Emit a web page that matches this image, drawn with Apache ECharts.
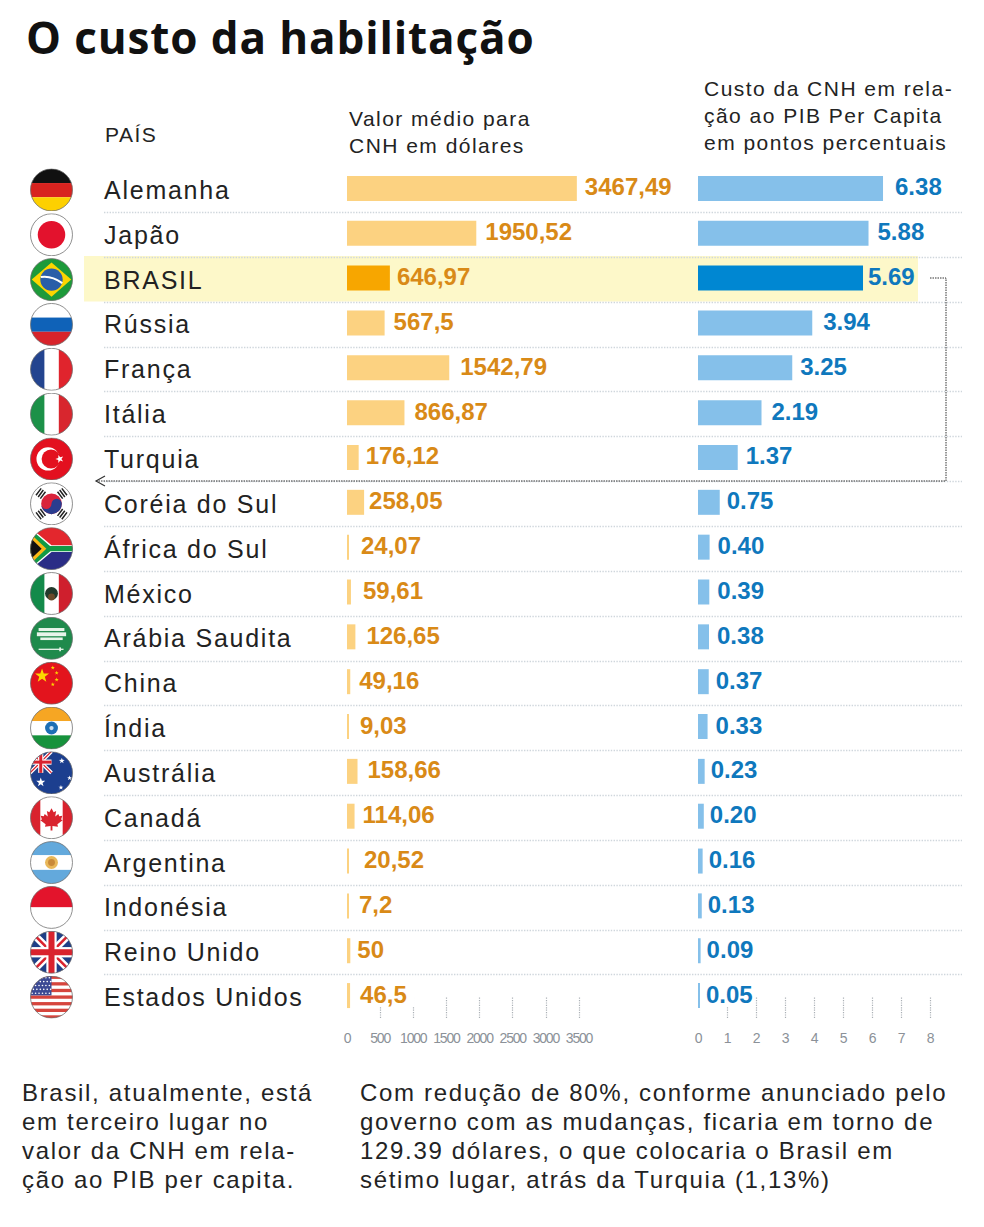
<!DOCTYPE html>
<html><head><meta charset="utf-8">
<style>
html,body{margin:0;padding:0;background:#fff}
#chart{width:984px;height:1227px}
#chart svg text{letter-spacing:.07em}
#chart svg text[style*="bold"]{letter-spacing:0}
#chart svg text[style*="14px"]{letter-spacing:-1.2px}
#chart svg text[style*="44px"]{letter-spacing:.02em}
</style>
<script src="https://cdn.jsdelivr.net/npm/echarts@6/dist/echarts.min.js"></script>
</head><body><div id="chart"></div>
<script>
var paises=["Alemanha","Japão","BRASIL","Rússia","França","Itália","Turquia","Coréia do Sul","África do Sul","México","Arábia Saudita","China","Índia","Austrália","Canadá","Argentina","Indonésia","Reino Unido","Estados Unidos"];
var valorDolares=[3467.49,1950.52,646.97,567.5,1542.79,866.87,176.12,258.05,24.07,59.61,126.65,49.16,9.03,158.66,114.06,20.52,7.2,50,46.5];
var custoPib=[6.38,5.88,5.69,3.94,3.25,2.19,1.37,0.75,0.40,0.39,0.38,0.37,0.33,0.23,0.20,0.16,0.13,0.09,0.05];
var ticksDolares=[500,1000,1500,2000,2500,3000,3500];
var ticksPib=[1,2,3,4,5,6,7,8];

// label gaps (layout, hand-placed in the original)
var gapDolares=[8,9,7,9,11,10,7,5,12,12,11,9,11,10,8,15,10,7,10];
var gapPib=[12,9,5,11,8,10,8,7,8,8,8,7,8,6,6,6,6,6,6];

function star(cx,cy,r,fill,rot){var p=[];for(var i=0;i<10;i++){var a=(rot||0)-Math.PI/2+i*Math.PI/5,q=i%2?r*.4:r;p.push((cx+q*Math.cos(a)).toFixed(1)+','+(cy+q*Math.sin(a)).toFixed(1));}return '<polygon fill="'+fill+'" points="'+p.join(' ')+'"/>';}
function r(x,y,w,h,f){return '<rect x="'+x+'" y="'+y+'" width="'+w+'" height="'+h+'" fill="'+f+'"/>';}
function c(x,y,q,f){return '<circle cx="'+x+'" cy="'+y+'" r="'+q+'" fill="'+f+'"/>';}
function union(s){return '<g transform="scale('+s+')">'+r(0,0,100,100,'#1f3f87')+'<path d="M0 0L100 100M100 0L0 100" stroke="#fff" stroke-width="17"/><path d="M0 0L100 100M100 0L0 100" stroke="#d9232e" stroke-width="6"/>'+r(38,0,24,100,'#fff')+r(0,38,100,24,'#fff')+r(43,0,14,100,'#d9232e')+r(0,43,100,14,'#d9232e')+'</g>';}
function usa(){var s=r(0,0,100,100,'#fff');for(var i=0;i<7;i++)s+=r(0,i*15.4,100,7.7,'#d6453d');s+=r(0,0,50,46,'#3c4a94');for(var y=0;y<5;y++)for(var x=0;x<6;x++)s+=c(5+x*8+(y%2)*3,5+y*9,1.9,'#fff');return s;}
function saudi(){return r(0,0,100,100,'#1f8a4c')+r(20,26,60,7,'#e8f4ea')+r(16,36,68,9,'#e8f4ea')+r(24,48,52,6,'#e8f4ea')+r(20,74,58,3,'#e8f4ea')+r(68,71,4,9,'#e8f4ea');}
var leaf='<path fill="#d9232e" d="M50 18L57 31L65 27L62 45L72 37L75 44L85 42L81 54L86 57L69 70L71 78L53 75V90H47V75L29 78L31 70L14 57L19 54L15 42L25 44L28 37L38 45L35 27L43 31Z"/>';
var FLAGS=[
 r(0,0,100,34,'#111')+r(0,34,100,33,'#d8231f')+r(0,67,100,33,'#fdd000'),
 r(0,0,100,100,'#fff')+c(50,50,32,'#e3122d'),
 r(0,0,100,100,'#1d9a3a')+'<polygon fill="#fcd500" points="50,10 96,50 50,90 4,50"/>'+c(50,50,26,'#2a5ea8')+'<path d="M25 44Q50 40 75 58" stroke="#fff" stroke-width="5" fill="none"/>',
 r(0,0,100,34,'#fff')+r(0,34,100,33,'#0f62b8')+r(0,67,100,33,'#d8232a'),
 r(0,0,34,100,'#23448f')+r(34,0,33,100,'#fff')+r(67,0,33,100,'#e0242d'),
 r(0,0,34,100,'#1c9148')+r(34,0,33,100,'#fff')+r(67,0,33,100,'#d8262e'),
 r(0,0,100,100,'#e3101f')+c(42,50,27,'#fff')+c(49,50,22,'#e3101f')+star(69,50,10,'#fff',-Math.PI/2),
 r(0,0,100,100,'#fff')+c(50,50,24,'#d9233b')+'<path d="M26 50A24 24 0 0 0 74 50A12 12 0 0 0 50 50A12 12 0 0 1 26 50Z" fill="#2a3d8f"/><g stroke="#222" stroke-width="3.5"><path d="M14 30L26 14M19 34L31 18M24 38L36 22"/><path d="M86 30L74 14M81 34L69 18M76 38L64 22"/><path d="M14 70L26 86M19 66L31 82M24 62L36 78"/><path d="M86 70L74 86M81 66L69 82M76 62L64 78"/></g>',
 r(0,0,100,50,'#e3272d')+r(0,50,100,50,'#2a2d86')+'<path d="M0 0L50 42H100V58H50L0 100Z" fill="#fff"/><path d="M0 8L46 47H100V53H46L0 92Z" fill="#129a45" stroke="#129a45" stroke-width="6"/><polygon points="0,14 38,50 0,86" fill="#fcb915"/><polygon points="0,24 27,50 0,76" fill="#111"/>',
 r(0,0,34,100,'#138a4a')+r(34,0,33,100,'#fff')+r(67,0,33,100,'#cf1f2d')+c(50,50,15,'#223a2c')+c(50,58,8,'#6a4a2a'),
 saudi(),
 r(0,0,100,100,'#e3141d')+star(28,33,17,'#fcd800')+star(53,14,5,'#fcd800')+star(62,26,5,'#fcd800')+star(62,42,5,'#fcd800')+star(53,53,5,'#fcd800'),
 r(0,0,100,34,'#f6a623')+r(0,34,100,33,'#fff')+r(0,67,100,33,'#16923c')+c(50,50,15,'#1d6fb5')+c(50,50,5,'#cfe0f0'),
 r(0,0,100,100,'#1c3f8f')+union(.5)+star(25,72,11,'#fff')+star(74,22,7,'#fff')+star(92,62,6,'#fff')+star(72,84,6,'#fff'),
 r(0,0,100,100,'#fff')+r(0,0,24,100,'#d9232e')+r(76,0,24,100,'#d9232e')+'<g transform="translate(14 15) scale(.72)">'+leaf+'</g>',
 r(0,0,100,33,'#63a9dc')+r(0,33,100,34,'#fff')+r(0,67,100,33,'#63a9dc')+c(50,50,15,'#e9b85a')+c(50,50,8,'#c98a3a'),
 r(0,0,100,50,'#e3142c')+r(0,50,100,50,'#fff'),
 union(1),
 usa()
];
function flagUri(inner){
 var s='<svg xmlns="http://www.w3.org/2000/svg" width="172" height="172" viewBox="0 0 100 100"><defs><clipPath id="k"><circle cx="50" cy="50" r="49"/></clipPath></defs><g clip-path="url(#k)">'+inner+'</g><circle cx="50" cy="50" r="48.8" fill="none" stroke="#6f6f6f" stroke-width="1.8"/></svg>';
 return 'image://data:image/svg+xml;charset=utf-8,'+encodeURIComponent(s);
}
var BR=2;
var GRID_TOP=166, ROW_H=852, BASE_TOP=167.5;
var txt='"Liberation Sans",Arial,sans-serif';
function block(x,y,lines,size,lh){return lines.map(function(s,i){return {type:'text',x:x,y:y+i*lh,silent:true,z:5,style:{text:s,fill:'#232323',font:size+'px '+txt,textVerticalAlign:'middle'}};});}

var catAxis=function(idx,o){return Object.assign({type:'category',gridIndex:idx,data:paises,inverse:true,axisLine:{show:false},axisTick:{show:false},axisLabel:{show:false},splitLine:{show:false}},o||{});};
var valAxis=function(idx,max,interval,ticks){return {type:'value',gridIndex:idx,min:0,max:max,interval:interval,position:'bottom',
 axisLine:{show:false},splitLine:{show:false},
 axisTick:{show:true,inside:true,length:21,customValues:ticks,lineStyle:{color:'#aab0b5',type:'dotted',width:1.2}},
 axisLabel:{show:true,margin:13,fontSize:14,fontFamily:'"Liberation Sans"',color:'#8b9198',formatter:function(v){return String(v);}}};};

function barSeries(name,idx,vals,base,hi,lab,gaps,fmt,padR){
 return {type:'bar',name:name,xAxisIndex:idx,yAxisIndex:idx,barWidth:25,barMinHeight:2,silent:true,z:3,
  data:vals.map(function(v,i){
   return {value:v,itemStyle:{color:i===BR?hi:base},
    label:{distance:gaps[i],backgroundColor:i===vals.length-1?'#fff':'transparent',padding:i===vals.length-1?[0,padR,0,0]:0}};
  }),
  label:{show:true,position:'right',offset:[0,-1.5],formatter:function(p){return fmt(p.value);},
   color:lab,fontFamily:'"Liberation Sans"',fontWeight:'bold',fontSize:24}};
}

var option={
 animation:false,
 backgroundColor:'#fff',
 title:{text:'O custo da habilitação',left:26,top:15,padding:0,textStyle:{fontFamily:'"Open Sans"',fontWeight:'bold',fontSize:44,color:'#111'}},
 grid:[
  {left:104,width:858,top:BASE_TOP,height:ROW_H},
  {left:347,width:232,top:GRID_TOP,height:ROW_H},
  {left:698,width:232,top:GRID_TOP,height:ROW_H},
  {left:30,width:43,top:BASE_TOP,height:ROW_H}
 ],
 xAxis:[
  {type:'value',gridIndex:0,show:false,min:0,max:1},
  valAxis(1,3500,500,ticksDolares),
  valAxis(2,8,1,ticksPib),
  {type:'value',gridIndex:3,show:false,min:0,max:1}
 ],
 yAxis:[
  catAxis(0,{splitLine:{show:true,showMinLine:false,showMaxLine:false,lineStyle:{color:'#cfd6dc',type:'dotted',width:1.4}},
    axisLabel:{show:true,inside:true,margin:0,fontSize:25,fontFamily:'"Liberation Sans"',color:'#222',verticalAlign:'middle'}}),
  catAxis(1),catAxis(2),catAxis(3)
 ],
 series:[
  barSeries('Valor médio para CNH em dólares',1,valorDolares,'#fcd281','#f7a600','#d98a17',gapDolares,function(v){return String(v).replace('.',',');},8),
  barSeries('Custo da CNH em relação ao PIB per capita',2,custoPib,'#85c0ea','#0087d2','#0f78bd',gapPib,function(v){return v.toFixed(2);},1),
  {type:'scatter',xAxisIndex:3,yAxisIndex:3,silent:true,clip:false,z:4,itemStyle:{opacity:1},
   data:paises.map(function(n,i){return {value:[.5,n],symbol:flagUri(FLAGS[i]),symbolSize:43};})}
 ],
 graphic:[
  {type:'rect',z:-10,silent:true,shape:{x:84,y:256,width:834,height:45.5},style:{fill:'#fdf8c9'}},
  {type:'polyline',z:5,silent:true,shape:{points:[[930,278],[946,278],[946,481],[96,481]]},style:{stroke:'#333',lineWidth:1,lineDash:[1.5,1],fill:'none'}},
  {type:'polyline',z:5,silent:true,shape:{points:[[105,476],[96,481],[105,486]]},style:{stroke:'#333',lineWidth:1.2,fill:'none'}}
 ].concat(
  block(105,134,['PAÍS'],21,27),
  block(349,118,['Valor médio para','CNH em dólares'],21,27),
  block(704,88,['Custo da CNH em rela-','ção ao PIB Per Capita','em pontos percentuais'],21,27),
  block(22,1092,['Brasil, atualmente, está','em terceiro lugar no','valor da CNH em rela-','ção ao PIB per capita.'],24,29),
  block(360,1092,['Com redução de 80%, conforme anunciado pelo','governo com as mudanças, ficaria em torno de','129.39 dólares, o que colocaria o Brasil em','sétimo lugar, atrás da Turquia (1,13%)'],24,29)
 )
};
var chart=echarts.init(document.getElementById('chart'),null,{renderer:'svg',width:984,height:1227});
chart.setOption(option);
</script></body></html>
